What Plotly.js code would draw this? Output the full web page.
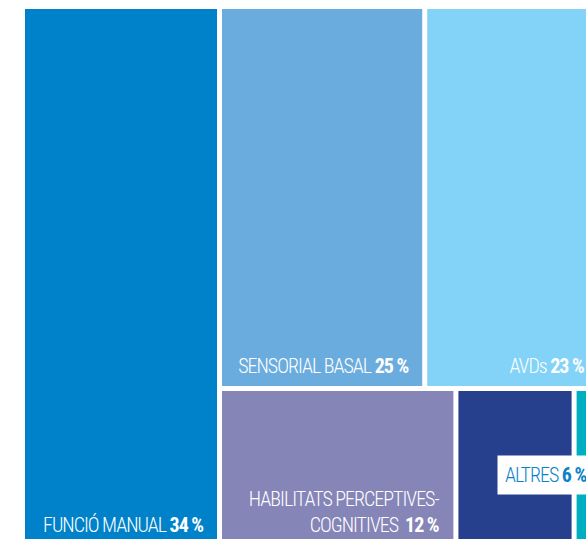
<!DOCTYPE html>
<html><head><meta charset="utf-8">
<script src="https://cdn.plot.ly/plotly-3.0.1.min.js"></script>
<style>
html,body{margin:0;padding:0;overflow:hidden;background:#fff;width:586px;height:539px}
#chart .annotation-text, #chart .annotation-text tspan{font-stretch:condensed !important;letter-spacing:-1px}
</style>
</head><body><div id="chart"></div>
<script>
// Data
const categories = ['FUNCIÓ MANUAL', 'SENSORIAL BASAL', 'AVDs', 'HABILITATS PERCEPTIVES-', 'ALTRES', ''];
const categories2 = ['', '', '', 'COGNITIVES', '', ''];
const values = [34, 25, 23, 12, 6, 2];
const pctLabels = ['34 %', '25 %', '23 %', '12 %', '6 %', ''];
const leafIds = ['f', 's', 'a', 'h', 'al', 't'];
const leafParents = ['root', 'top', 'top', 'bottom', 'bottom', 'bottom'];
const colors = ['#0082CA', '#6BACDE', '#82D3F7', '#8685B8', '#26408E', '#00AEC2'];
const groupIds = ['root', 'right', 'top', 'bottom'];
const groupParents = ['', 'root', 'right', 'right'];

const FONT = 'Roboto';
const FSIZE = 20;
const VIEW_W = 586;
const W = 611, H = 545, ML = 25, MT = 9;
const PW = W - ML, PH = H - MT, PAD = 5;

const order = ['root', 'f', 'right', 'top', 's', 'a', 'bottom', 'h', 'al', 't'];
const allIds = groupIds.concat(leafIds);
const allParents = groupParents.concat(leafParents);
const ids = [], parents = [], vals = [], cols = [];
order.forEach(id => {
  const k = allIds.indexOf(id);
  ids.push(id); parents.push(allParents[k]);
  const li = leafIds.indexOf(id);
  vals.push(li >= 0 ? values[li] : 0);
  cols.push(li >= 0 ? colors[li] : '#ffffff');
});

const trace = {
  type: 'treemap', ids: ids, labels: ids, parents: parents, values: vals,
  branchvalues: 'remainder', sort: false, textinfo: 'none',
  marker: {colors: cols, line: {width: 0}, pad: {t: 0, l: 0, r: 0, b: 0}},
  tiling: {packing: 'slice-dice', pad: PAD},
  pathbar: {visible: false}, hoverinfo: 'skip'
};

// replicate the slice-dice geometry (same values) to place the labels
function sumOf(id) {
  const li = leafIds.indexOf(id);
  if (li >= 0) return values[li];
  return ids.filter((c, i) => parents[i] === id).reduce((s, c) => s + sumOf(c), 0);
}
const rects = {};
function place(id, x0, y0, x1, y1, depth, p) {
  x0 += p; y0 += p; x1 -= p; y1 -= p;
  rects[id] = {x0, y0, x1, y1};
  const kids = ids.filter((c, i) => parents[i] === id);
  if (!kids.length) return;
  const q = PAD / 2;
  const X0 = x0 - q, Y0 = y0 - q, X1 = x1 + q, Y1 = y1 + q;
  const tot = kids.reduce((s, c) => s + sumOf(c), 0);
  let cur = (depth % 2 === 0) ? X0 : Y0;
  kids.forEach(c => {
    const v = sumOf(c);
    if (depth % 2 === 0) {
      const w = (X1 - X0) * v / tot;
      place(c, cur, Y0, cur + w, Y1, depth + 1, q); cur += w;
    } else {
      const h = (Y1 - Y0) * v / tot;
      place(c, X0, cur, X1, cur + h, depth + 1, q); cur += h;
    }
  });
}
place('root', 0, 0, PW, PH, 0, 0);
const px = x => x / PW, py = y => 1 - y / PH;
const visRight = VIEW_W - ML;

const annotations = [];
leafIds.forEach((id, i) => {
  if (!categories[i] || id === 'al') return;
  const r = rects[id];
  const clipped = r.x1 > visRight;
  const txt = categories2[i]
    ? categories[i] + '<br>' + categories2[i] + '  <b>' + pctLabels[i] + '</b>'
    : categories[i] + ' <b>' + pctLabels[i] + '</b>';
  annotations.push({
    xref: 'paper', yref: 'paper', x: px(Math.min(r.x1, visRight)), y: py(r.y1),
    xanchor: 'right', yanchor: 'bottom', xshift: clipped ? 0 : -12, yshift: 6,
    align: 'right', text: txt, showarrow: false,
    font: {family: FONT, size: FSIZE, weight: 300, color: '#ffffff'}
  });
});
const rt = rects['t'], ral = rects['al'];
annotations.push({
  xref: 'paper', yref: 'paper', x: px(rt.x0), y: py((ral.y0 + ral.y1) / 2),
  xanchor: 'left', yanchor: 'middle', xshift: -80, yshift: -7,
  align: 'left',
  text: categories[4] + ' <b>' + pctLabels[4] + '</b>', showarrow: false,
  bgcolor: '#ffffff', borderpad: 7,
  font: {family: FONT, size: FSIZE, weight: 300, color: '#0A82C8'}
});

const layout = {
  width: W, height: H, margin: {l: ML, r: 0, t: MT, b: 0},
  paper_bgcolor: '#ffffff', showlegend: false, annotations: annotations
};
Plotly.newPlot('chart', [trace], layout, {displayModeBar: false, staticPlot: true});
</script></body></html>
